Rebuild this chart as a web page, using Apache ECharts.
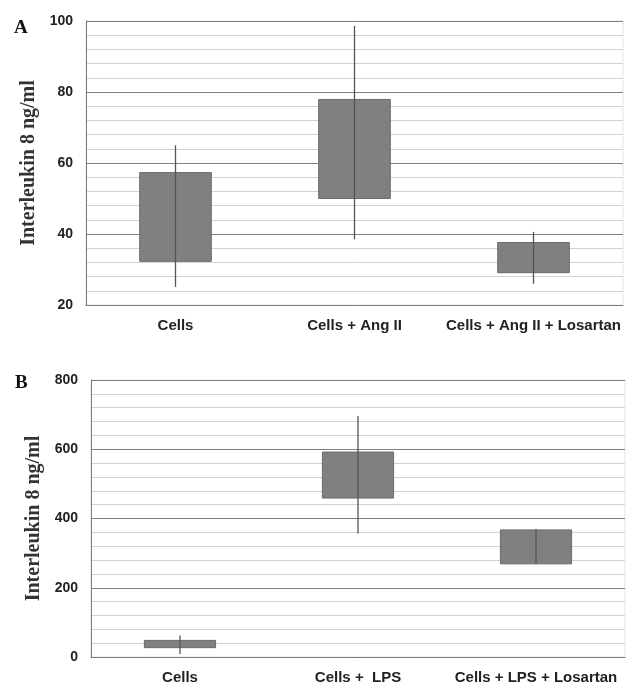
<!DOCTYPE html>
<html><head><meta charset="utf-8">
<script src="https://cdn.jsdelivr.net/npm/echarts@6/dist/echarts.min.js"></script>
<style>html,body{margin:0;padding:0;background:#fff}#c{width:635px;height:688px}</style>
</head><body><div id="c"></div>
<script>
var catsA = ['Cells', 'Cells + Ang II', 'Cells + Ang II + Losartan'];
var boxLowA = [32.3, 50, 29.1];
var boxHighA = [57.3, 77.9, 37.6];
var whiskLowA = [25.1, 38.5, 26];
var whiskHighA = [65, 98.6, 40.6];
var ticksA = [20, 40, 60, 80, 100];

var catsB = ['Cells', 'Cells +  LPS', 'Cells + LPS + Losartan'];
var boxLowB = [27, 459, 269];
var boxHighB = [48, 592, 367];
var whiskLowB = [9, 357, 269];
var whiskHighB = [62, 696, 370];
var ticksB = [0, 200, 400, 600, 800];

function rows(lo, hi, wl, wh) {
  return lo.map(function (v, i) { return [i, lo[i], hi[i], wl[i], wh[i]]; });
}
function renderBox(params, api) {
  var i = api.value(0);
  var pLo = api.coord([i, api.value(1)]);
  var pHi = api.coord([i, api.value(2)]);
  var pWl = api.coord([i, api.value(3)]);
  var pWh = api.coord([i, api.value(4)]);
  var bw = api.size([1, 0])[0] * 0.40;
  return {
    type: 'group',
    children: [
      { type: 'rect', shape: { x: pLo[0] - bw / 2, y: pHi[1], width: bw, height: pLo[1] - pHi[1] },
        style: { fill: '#808080', stroke: '#6a6a6a', lineWidth: 1 } },
      { type: 'line', shape: { x1: pWh[0], y1: pWh[1], x2: pWl[0], y2: pWl[1] },
        style: { stroke: '#555555', lineWidth: 1.3 } }
    ]
  };
}
var sansBold = { fontFamily: 'Liberation Sans, Arial, sans-serif', fontWeight: 'bold', color: '#222' };
function yAxis(idx, min, max, interval) {
  return {
    type: 'value', gridIndex: idx, min: min, max: max, interval: interval,
    name: 'Interleukin 8 ng/ml', nameLocation: 'middle', nameGap: 44,
    nameTextStyle: { fontFamily: 'Liberation Serif, Times New Roman, serif', fontWeight: 'bold', fontSize: 20, color: '#333' },
    axisLine: { show: true, lineStyle: { color: '#7a7a7a', width: 1 } },
    axisTick: { show: false },
    axisLabel: Object.assign({ margin: 13, fontSize: 14 }, sansBold),
    splitLine: { show: true, lineStyle: { color: '#7f7f7f', width: 1 } },
    minorTick: { show: false, splitNumber: 5 },
    minorSplitLine: { show: true, lineStyle: { color: '#d2d2d2', width: 1 } }
  };
}
function xAxis(idx, cats) {
  return {
    type: 'category', gridIndex: idx, data: cats,
    axisLine: { show: true, lineStyle: { color: '#7a7a7a', width: 1 } },
    axisTick: { show: false },
    axisLabel: Object.assign({ margin: 13, interval: 0, fontSize: 15 }, sansBold),
    splitLine: { show: false }
  };
}
var chart = echarts.init(document.getElementById('c'), null, { renderer: 'canvas' });
chart.setOption({
  animation: false,
  backgroundColor: '#fff',
  title: [
    { text: 'A', left: 9, top: 14, textStyle: { fontFamily: 'Liberation Serif, serif', fontWeight: 'bold', fontSize: 19, color: '#111' } },
    { text: 'B', left: 10, top: 369, textStyle: { fontFamily: 'Liberation Serif, serif', fontWeight: 'bold', fontSize: 19, color: '#111' } }
  ],
  grid: [
    { left: 86, right: 12, top: 21, height: 284, show: true, borderColor: '#e6e6e6', borderWidth: 1 },
    { left: 91, right: 10, top: 380, height: 277, show: true, borderColor: '#e6e6e6', borderWidth: 1 }
  ],
  xAxis: [xAxis(0, catsA), xAxis(1, catsB)],
  yAxis: [yAxis(0, ticksA[0], ticksA[ticksA.length - 1], ticksA[1] - ticksA[0]),
          yAxis(1, ticksB[0], ticksB[ticksB.length - 1], ticksB[1] - ticksB[0])],
  series: [
    { type: 'custom', xAxisIndex: 0, yAxisIndex: 0, renderItem: renderBox,
      encode: { x: 0, y: [1, 2, 3, 4] }, data: rows(boxLowA, boxHighA, whiskLowA, whiskHighA) },
    { type: 'custom', xAxisIndex: 1, yAxisIndex: 1, renderItem: renderBox,
      encode: { x: 0, y: [1, 2, 3, 4] }, data: rows(boxLowB, boxHighB, whiskLowB, whiskHighB) }
  ]
});
</script></body></html>
